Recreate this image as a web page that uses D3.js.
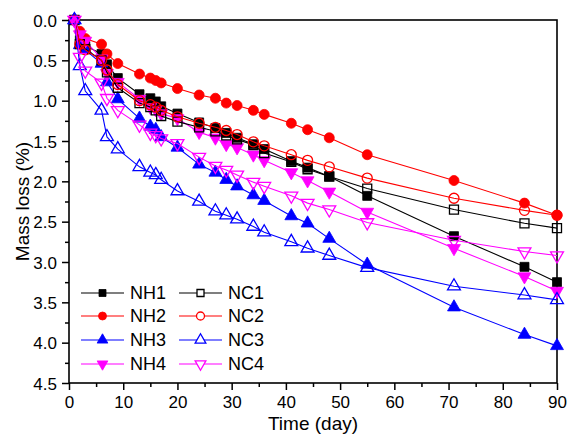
<!DOCTYPE html>
<html>
<head>
<meta charset="utf-8">
<script src="https://cdn.jsdelivr.net/npm/d3@7"></script>
<style>
  body { margin: 0; background: #fff; }
  svg text { font-family: Arial, "Liberation Sans", sans-serif; fill: #000; }
</style>
</head>
<body>
<div id="chart"></div>
<script>
// sampling days, shared by all eight series
var days = [1, 2, 3, 6, 7, 9, 13, 15, 16, 17, 20, 24, 27, 29, 31, 34, 36, 41, 44, 48, 55, 71, 84, 90];

// mass loss (%)
var nh1 = [0, 0.25, 0.32, 0.42, 0.55, 0.72, 0.92, 0.97, 1.01, 1.07, 1.16, 1.27, 1.34, 1.40, 1.46, 1.54, 1.60, 1.75, 1.83, 1.94, 2.18, 2.68, 3.06, 3.25];
var nh2 = [0, 0.14, 0.23, 0.30, 0.42, 0.54, 0.67, 0.72, 0.75, 0.78, 0.85, 0.93, 0.97, 1.03, 1.06, 1.12, 1.17, 1.28, 1.36, 1.46, 1.67, 1.99, 2.27, 2.42];
var nh3 = [0, 0.31, 0.37, 0.54, 0.77, 0.98, 1.22, 1.32, 1.36, 1.45, 1.58, 1.79, 1.89, 1.98, 2.06, 2.17, 2.24, 2.43, 2.52, 2.71, 3.03, 3.56, 3.90, 4.04];
var nh4 = [0, 0.18, 0.26, 0.48, 0.66, 0.77, 0.98, 1.08, 1.11, 1.16, 1.22, 1.39, 1.46, 1.54, 1.58, 1.67, 1.74, 1.89, 1.99, 2.13, 2.38, 2.83, 3.18, 3.36];
var nc1 = [0, 0.30, 0.36, 0.50, 0.65, 0.84, 1.03, 1.08, 1.12, 1.19, 1.26, 1.33, 1.38, 1.43, 1.48, 1.55, 1.65, 1.76, 1.85, 1.94, 2.09, 2.35, 2.52, 2.58];
var nc2 = [0, 0.30, 0.37, 0.50, 0.62, 0.80, 1.00, 1.05, 1.08, 1.12, 1.20, 1.28, 1.33, 1.37, 1.42, 1.51, 1.56, 1.67, 1.74, 1.82, 1.96, 2.21, 2.36, 2.42];
var nc3 = [0, 0.57, 0.88, 1.12, 1.45, 1.60, 1.82, 1.89, 1.92, 1.98, 2.12, 2.25, 2.37, 2.42, 2.47, 2.56, 2.63, 2.75, 2.83, 2.92, 3.07, 3.30, 3.41, 3.47];
var nc4 = [0, 0.46, 0.63, 0.78, 0.97, 1.12, 1.30, 1.40, 1.43, 1.47, 1.53, 1.70, 1.81, 1.86, 1.92, 2.01, 2.06, 2.18, 2.27, 2.35, 2.51, 2.73, 2.87, 2.92];

var seriesNames = ["NH1", "NH2", "NH3", "NH4", "NC1", "NC2", "NC3", "NC4"];
var seriesValues = [nh1, nh2, nh3, nh4, nc1, nc2, nc3, nc4];
var seriesColors = ["#000000", "#ff0000", "#0000ff", "#ff00ff", "#000000", "#ff0000", "#0000ff", "#ff00ff"];
var seriesShapes = ["square", "circle", "up", "down", "square", "circle", "up", "down"];
var seriesFilled = [true, true, true, true, false, false, false, false];

var xTicks = [0, 10, 20, 30, 40, 50, 60, 70, 80, 90];
var yTicks = [0, 0.5, 1, 1.5, 2, 2.5, 3, 3.5, 4, 4.5];


let margin = {top: 20, right: 11, bottom: 51, left: 69},
    width = 568 - margin.left - margin.right,
    height = 434 - margin.top - margin.bottom;

let svg = d3.select("#chart").append("svg")
    .attr("width", 568)
    .attr("height", 434);

let g = svg.append("g")
    .attr("transform", "translate(" + margin.left + "," + margin.top + ")");

let x = d3.scaleLinear().domain([0, 90]).range([0, width]);
let y = d3.scaleLinear().domain([0, 4.5]).range([0, height]);   // inverted: 0 at top

// ---- AXES ----
let xMinor = d3.range(5, 90, 10);
let yMinor = d3.range(0.25, 4.5, 0.5);

g.append("g")
    .attr("transform", "translate(0," + height + ")")
    .call(d3.axisBottom(x).tickValues(xMinor).tickSize(4).tickSizeOuter(0).tickFormat(""))
    .call(a => a.select(".domain").remove());

g.append("g")
    .call(d3.axisLeft(y).tickValues(yMinor).tickSize(4).tickSizeOuter(0).tickFormat(""))
    .call(a => a.select(".domain").remove());

let xAxisGroup = g.append("g")
    .attr("transform", "translate(0," + height + ")")
    .call(d3.axisBottom(x).tickValues(xTicks).tickSize(7).tickSizeOuter(0).tickPadding(6).tickFormat(d3.format("d")));

let yAxisGroup = g.append("g")
    .call(d3.axisLeft(y).tickValues(yTicks).tickSize(7).tickSizeOuter(0).tickPadding(5).tickFormat(d3.format(".1f")));

g.selectAll(".tick line").attr("stroke", "#000").attr("stroke-width", 1.5);
xAxisGroup.selectAll("text").attr("font-size", 17);
yAxisGroup.selectAll("text").attr("font-size", 17).attr("dy", "0.36em");
g.selectAll(".domain").remove();

// frame
g.append("rect")
    .attr("width", width)
    .attr("height", height)
    .attr("fill", "none")
    .attr("stroke", "#000")
    .attr("stroke-width", 1.6);

// axis titles
svg.append("text")
    .attr("x", margin.left + width / 2)
    .attr("y", 430)
    .attr("text-anchor", "middle")
    .attr("font-size", 19)
    .text("Time (day)");

svg.append("text")
    .attr("transform", "translate(29," + (margin.top + height / 2) + ") rotate(-90)")
    .attr("text-anchor", "middle")
    .attr("font-size", 19)
    .text("Mass loss (%)");

// ---- MARKERS ----
function markerPath(shape, s) {
    let sym = {square: d3.symbolSquare, circle: d3.symbolCircle, up: d3.symbolTriangle, down: d3.symbolTriangle}[shape];
    let area = {square: s * s, circle: Math.PI * s * s / 4, up: s * s * 0.5, down: s * s * 0.5}[shape];
    return d3.symbol().type(sym).size(area)();
}

function drawMarker(sel, i, s, openFill) {
    let shape = seriesShapes[i];
    sel.append("path")
        .attr("d", markerPath(shape, s))
        .attr("transform", d => (shape === "down" ? "rotate(180)" : ""))
        .attr("fill", seriesFilled[i] ? seriesColors[i] : openFill)
        .attr("stroke", seriesColors[i])
        .attr("stroke-width", seriesFilled[i] ? 0.8 : 1.3);
}

let line = d3.line()
    .x(d => x(d[0]))
    .y(d => y(d[1]));

seriesValues.forEach(function(vals, i) {
    let pts = days.map((d, k) => [d, vals[k]]);

    g.append("path")
        .datum(pts)
        .attr("fill", "none")
        .attr("stroke", seriesColors[i])
        .attr("stroke-width", 1.1)
        .attr("d", line);

    let m = g.selectAll(".m" + i)
        .data(pts)
        .enter()
        .append("g")
        .attr("class", "m" + i)
        .attr("transform", d => "translate(" + x(d[0]) + "," + y(d[1]) + ")");
    drawMarker(m, i, seriesShapes[i] === "circle" ? 10 : (seriesShapes[i] === "square" ? 9 : 12), "none");
});

// ---- LEGEND ----
let legendRows = [293, 316, 340, 364];
seriesNames.forEach(function(name, i) {
    let col = i < 4 ? 0 : 1;
    let row = i % 4;
    let x0 = col === 0 ? 81 : 179;
    let lg = svg.append("g")
        .attr("transform", "translate(" + x0 + "," + legendRows[row] + ")");

    lg.append("line")
        .attr("x1", 0).attr("x2", 43)
        .attr("stroke", seriesColors[i])
        .attr("stroke-width", 1.1);

    let mk = lg.append("g").attr("transform", "translate(21.5,0)");
    drawMarker(mk, i, seriesShapes[i] === "circle" ? 8 : (seriesShapes[i] === "square" ? 7 : 10), "#fff");

    lg.append("text")
        .attr("x", 49)
        .attr("dy", "0.36em")
        .attr("font-size", 18)
        .text(name);
});
</script>
</body>
</html>
